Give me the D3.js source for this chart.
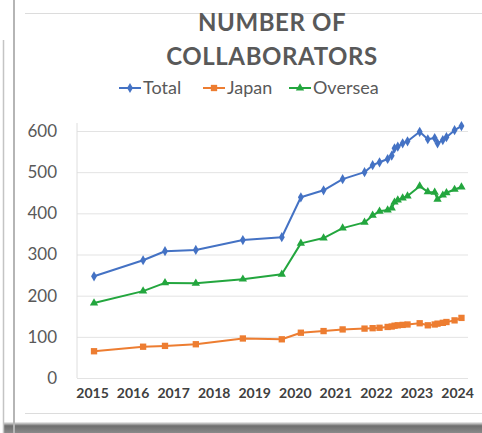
<!DOCTYPE html>
<html>
<head>
<meta charset="utf-8">
<script src="https://cdn.jsdelivr.net/npm/d3@7"></script>
<style>
  html, body { margin: 0; padding: 0; background: #fff; }
  svg { display: block; }
</style>
</head>
<body>
<svg id="chart" width="482" height="433"></svg>
<script>
// Survey dates (decimal years) shared by all three series
const dates = [2015.05, 2016.26, 2016.80, 2017.56, 2018.72, 2019.68, 2020.15, 2020.71,
  2021.18, 2021.72, 2021.92, 2022.09, 2022.29, 2022.39, 2022.46, 2022.54, 2022.66,
  2022.78, 2023.08, 2023.28, 2023.45, 2023.52, 2023.65, 2023.74, 2023.94, 2024.11];

const totalValues = [247, 286, 308, 311, 335, 342, 439, 456, 483, 500, 517, 524, 532,
  540, 558, 562, 570, 575, 598, 580, 583, 570, 578, 585, 602, 612];
const japanValues = [65, 76, 78, 82, 96, 94, 110, 114, 118, 120, 121, 122, 124,
  125, 127, 128, 129, 130, 133, 128, 130, 132, 134, 136, 140, 146];
const overseaValues = [182, 211, 231, 230, 240, 252, 327, 340, 364, 378, 395, 405, 408,
  413, 427, 432, 437, 442, 466, 452, 451, 434, 444, 450, 458, 464];

const seriesNames = ["Total", "Japan", "Oversea"];
const yearTicks = [2015, 2016, 2017, 2018, 2019, 2020, 2021, 2022, 2023, 2024];
const valueTicks = [0, 100, 200, 300, 400, 500, 600];
const titleLines = ["NUMBER OF", "COLLABORATORS"];

const colors = { Total: "#4472C4", Japan: "#ED7D31", Oversea: "#23A63E" };
const symbols = { Total: d3.symbolDiamond, Japan: d3.symbolSquare, Oversea: d3.symbolTriangle };
const symbolSizes = { Total: 30, Japan: 40, Oversea: 30 };

const svg = d3.select("#chart");
const font = "Lato, 'Open Sans', sans-serif";

// ---- page frame ----
const frame = svg.append("g");
const shadow = svg.append("defs").append("linearGradient")
  .attr("id", "shadowGrad").attr("x1", 0).attr("x2", 0).attr("y1", 0).attr("y2", 1);
shadow.append("stop").attr("offset", "0%").attr("stop-color", "#f2f2f2");
shadow.append("stop").attr("offset", "35%").attr("stop-color", "#6e6e6e");
shadow.append("stop").attr("offset", "100%").attr("stop-color", "#8a8a8a");
frame.append("rect").attr("x", 4).attr("y", 422).attr("width", 478).attr("height", 11)
  .attr("fill", "url(#shadowGrad)");
frame.append("line").attr("x1", 3.5).attr("x2", 3.5).attr("y1", 40).attr("y2", 433)
  .attr("stroke", "#c4c4c4").attr("stroke-width", 1.5);
frame.append("line").attr("x1", 14).attr("x2", 14).attr("y1", 0).attr("y2", 433)
  .attr("stroke", "#b5b5b5").attr("stroke-width", 2);
frame.append("line").attr("x1", 25).attr("x2", 482).attr("y1", 13.5).attr("y2", 13.5)
  .attr("stroke", "#dcdcdc").attr("stroke-width", 1.2);
frame.append("line").attr("x1", 25).attr("x2", 482).attr("y1", 413.5).attr("y2", 413.5)
  .attr("stroke", "#dcdcdc").attr("stroke-width", 1.2);

// ---- scales ----
const x = d3.scaleLinear().domain([2015, 2024]).range([92, 457]);
const y = d3.scaleLinear().domain([0, 600]).range([378, 131]);
const plotLeft = 77, plotRight = 468;

// ---- gridlines & axes ----
const yAxis = d3.axisLeft(y).tickValues(valueTicks)
  .tickSize(-(plotRight - plotLeft)).tickPadding(20).tickFormat(d3.format("d"));
const gy = svg.append("g").attr("transform", `translate(${plotLeft},0)`).call(yAxis);
gy.select(".domain").remove();
gy.selectAll(".tick line").attr("stroke", "#e3e3e3").attr("stroke-width", 1);
gy.selectAll(".tick text").attr("fill", "#595959").attr("font-family", font)
  .attr("font-size", 17).attr("dx", 0);

svg.append("line").attr("x1", plotLeft).attr("x2", plotLeft).attr("y1", 123).attr("y2", 378)
  .attr("stroke", "#dedede").attr("stroke-width", 1);

const xAxis = d3.axisBottom(x).tickValues(yearTicks).tickSize(0).tickPadding(10)
  .tickFormat(d3.format("d"));
const gx = svg.append("g").attr("transform", "translate(0,378)").call(xAxis);
gx.select(".domain").remove();
gx.selectAll(".tick text").attr("fill", "#404040").attr("font-family", font)
  .attr("font-size", 14).attr("font-weight", "bold");

// ---- series ----
const seriesData = {
  Total: dates.map((d, i) => ({ d, v: totalValues[i] })),
  Japan: dates.map((d, i) => ({ d, v: japanValues[i] })),
  Oversea: dates.map((d, i) => ({ d, v: overseaValues[i] }))
};
const line = d3.line().x(p => x(p.d)).y(p => y(p.v));

["Japan", "Oversea", "Total"].forEach(name => {
  const g = svg.append("g");
  g.append("path").datum(seriesData[name]).attr("d", line)
    .attr("fill", "none").attr("stroke", colors[name]).attr("stroke-width", 2)
    .attr("stroke-linejoin", "round");
  g.selectAll("path.mk").data(seriesData[name]).join("path").attr("class", "mk")
    .attr("transform", p => `translate(${x(p.d)},${y(p.v)})`)
    .attr("d", d3.symbol().type(symbols[name]).size(symbolSizes[name]))
    .attr("fill", colors[name]);
});

// ---- title ----
svg.append("g").selectAll("text").data(titleLines).join("text")
  .attr("x", 272).attr("y", (d, i) => 31 + i * 34)
  .attr("text-anchor", "middle").attr("font-family", font)
  .attr("font-weight", "bold").attr("font-size", 24).attr("fill", "#595959")
  .attr("letter-spacing", 0.6)
  .text(d => d);

// ---- legend ----
const legendX = { Total: 119, Japan: 203, Oversea: 289 };
const legend = svg.append("g").selectAll("g").data(seriesNames).join("g")
  .attr("transform", d => `translate(${legendX[d]},88)`);
legend.append("line").attr("x1", 0).attr("x2", 22)
  .attr("stroke", d => colors[d]).attr("stroke-width", 2);
legend.append("path").attr("transform", "translate(11,0)")
  .attr("d", d => d3.symbol().type(symbols[d]).size(symbolSizes[d])())
  .attr("fill", d => colors[d]);
legend.append("text").attr("x", 24).attr("y", 6)
  .attr("font-family", font).attr("font-size", 18).attr("fill", "#595959")
  .text(d => d);
</script>
</body>
</html>
